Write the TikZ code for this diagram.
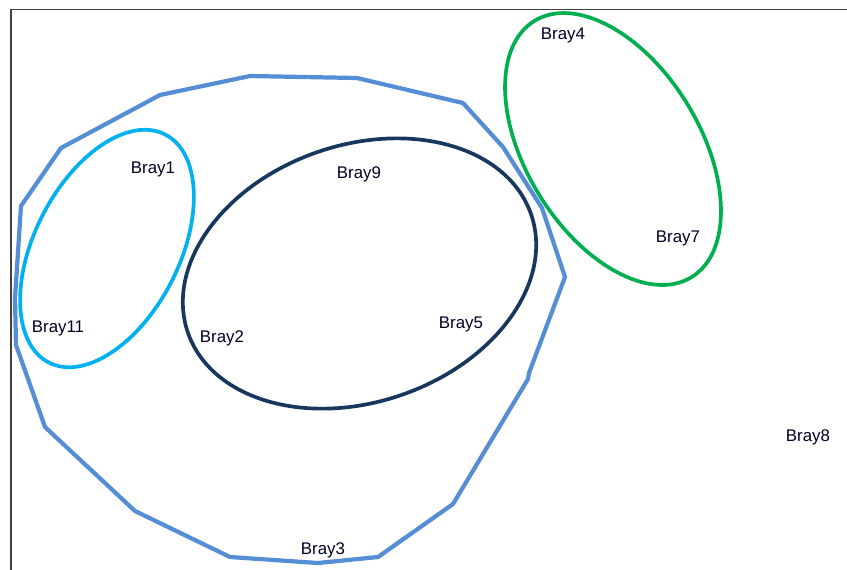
\documentclass[tikz,border=0pt]{standalone}
\usepackage{fontspec}
\setmainfont{Liberation Sans}
\usetikzlibrary{positioning}

\definecolor{hullblue}{HTML}{558ED5}
\definecolor{skyblue}{HTML}{00B0F0}
\definecolor{navyblue}{HTML}{17375E}
\definecolor{grpgreen}{HTML}{00B050}
\definecolor{framegray}{HTML}{404040}

\tikzset{
  site/.style={inner sep=0pt, yshift=-0.035cm, font=\fontsize{9.6}{11}\selectfont, text=black!85!blue},
  hull/.style={draw=hullblue, line width=2.4pt, line join=round},
  group/.style={line width=2.1pt}
}

\begin{document}
\begin{tikzpicture}[x=0.02cm, y=-0.02cm]

\useasboundingbox (0,0) rectangle (847,569);
\clip (0,0) rectangle (847,569);

% frame
\draw [draw=framegray, line width=1.1pt] (11,580) -- (11,9.5) -- (860,9.5);

% outer hull
\draw [hull] (61,148) -- (160,95) -- (250,76) -- (357,78) -- (463,103)
  -- (503,147) -- (542,208) -- (565,277) -- (529,373) -- (528,379)
  -- (453,504) -- (378,557) -- (318,563) -- (230,557) -- (135,511)
  -- (45,427) -- (16,345) -- (15,298) -- (21,206) -- cycle;

% groups
\draw [group, draw=skyblue] [rotate around={63:(107,248.5)}]
  (107,248.5) ellipse [x radius=128, y radius=72.5];
\draw [group, draw=navyblue] [rotate around={19:(359.5,273.5)}]
  (359.5,273.5) ellipse [x radius=181.5, y radius=128.5];
\draw [group, draw=grpgreen] [rotate around={-58.5:(613,149)}]
  (613,149) ellipse [x radius=150.3, y radius=86.9];

% sites
\node [site] (bray4)  at (563,34)  {Bray4};
\node [site] (bray9)  at (359,173) {Bray9};
\node [site] (bray1)  at (153,168) {Bray1};
\node [site] (bray7)  at (678,237) {Bray7};
\node [site] (bray11) at (58,327)  {Bray11};
\node [site] (bray5)  at (461,323) {Bray5};
\node [site] (bray2)  at (222,337) {Bray2};
\node [site] (bray8)  at (808,436) {Bray8};
\node [site] (bray3)  at (323,549) {Bray3};

\end{tikzpicture}
\end{document}
